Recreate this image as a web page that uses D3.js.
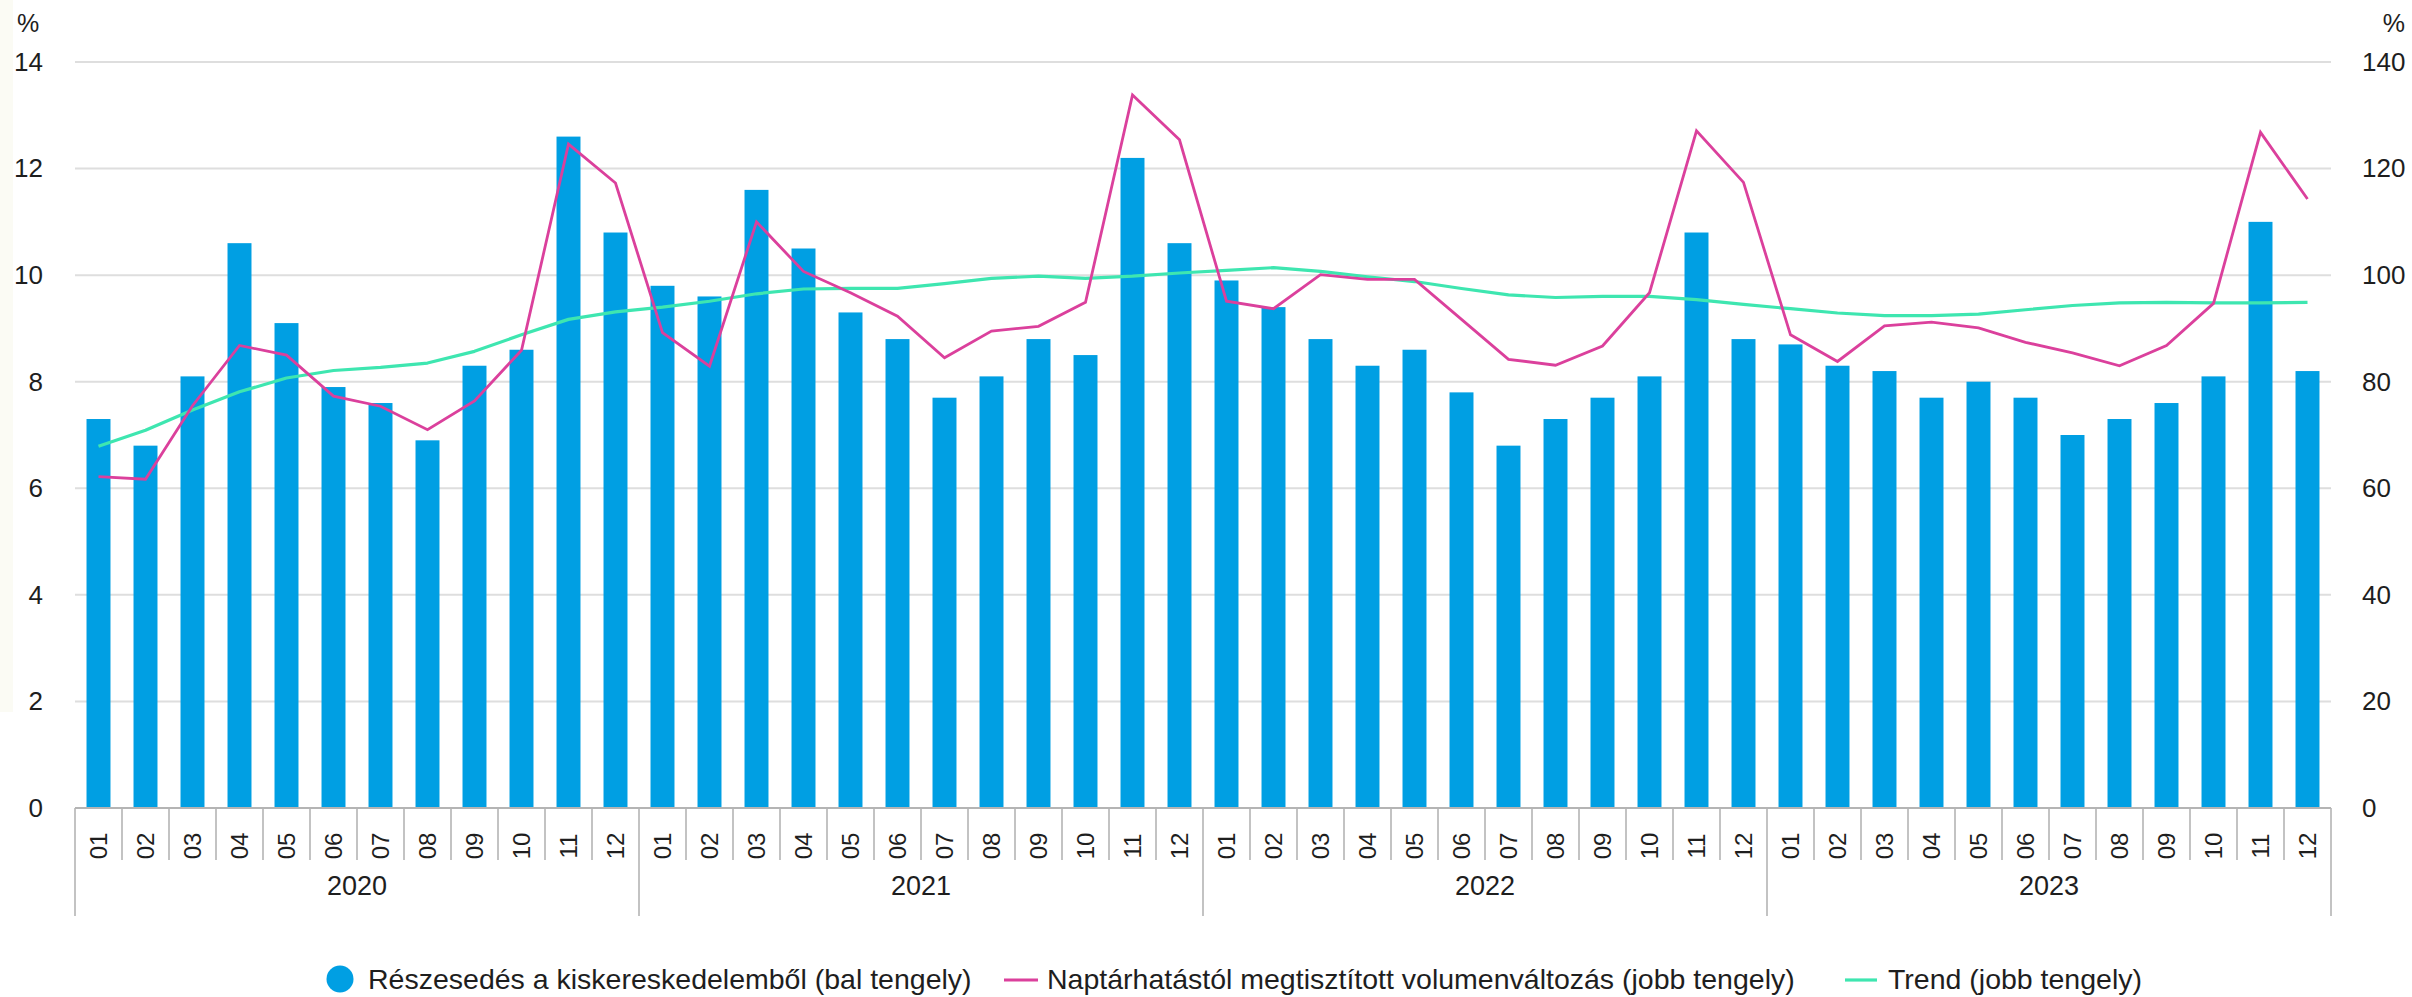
<!DOCTYPE html>
<html lang="hu">
<head>
<meta charset="utf-8">
<script src="https://cdn.jsdelivr.net/npm/d3@7"></script>
<style>
  html, body { margin: 0; padding: 0; background: #ffffff; }
  svg { display: block; font-family: "Liberation Sans", Arial, sans-serif; }
</style>
</head>
<body>
<svg id="chart" width="2412" height="997"></svg>
<script>
// Categories: months grouped by year
const years = ["2020", "2021", "2022", "2023"];
const months = ["01", "02", "03", "04", "05", "06", "07", "08", "09", "10", "11", "12"];

// Share of retail trade, % (left axis)
const shareValues = [
  7.3, 6.8, 8.1, 10.6, 9.1, 7.9, 7.6, 6.9, 8.3, 8.6, 12.6, 10.8,
  9.8, 9.6, 11.6, 10.5, 9.3, 8.8, 7.7, 8.1, 8.8, 8.5, 12.2, 10.6,
  9.9, 9.4, 8.8, 8.3, 8.6, 7.8, 6.8, 7.3, 7.7, 8.1, 10.8, 8.8,
  8.7, 8.3, 8.2, 7.7, 8.0, 7.7, 7.0, 7.3, 7.6, 8.1, 11.0, 8.2
];

// Calendar-adjusted volume change, % (right axis)
const volumeValues = [
  62.2, 61.7, 75.5, 86.8, 85.0, 77.3, 75.4, 71.0, 76.4, 85.9, 124.6, 117.3,
  89.2, 82.9, 110.0, 100.7, 96.7, 92.3, 84.5, 89.5, 90.4, 94.9, 133.8, 125.4,
  95.1, 93.7, 100.1, 99.2, 99.2, 91.7, 84.2, 83.1, 86.7, 96.7, 127.1, 117.4,
  88.8, 83.8, 90.5, 91.2, 90.1, 87.4, 85.4, 83.0, 86.8, 94.7, 126.8, 114.3
];

// Trend, % (right axis)
const trendValues = [
  67.9, 70.9, 74.7, 78.1, 80.7, 82.1, 82.7, 83.5, 85.7, 88.8, 91.7, 93.1,
  94.0, 95.1, 96.5, 97.4, 97.5, 97.5, 98.4, 99.4, 99.8, 99.4, 99.8, 100.4,
  100.9, 101.4, 100.7, 99.7, 98.8, 97.5, 96.3, 95.8, 96.0, 96.0, 95.4, 94.5,
  93.7, 92.9, 92.4, 92.4, 92.7, 93.5, 94.3, 94.8, 94.9, 94.8, 94.8, 94.9
];

const leftTicks = [0, 2, 4, 6, 8, 10, 12, 14];
const rightTicks = [0, 20, 40, 60, 80, 100, 120, 140];

const seriesNames = [
  "Részesedés a kiskereskedelemből (bal tengely)",
  "Naptárhatástól megtisztított volumenváltozás (jobb tengely)",
  "Trend (jobb tengely)"
];

const colors = { bar: "#009fe3", volume: "#db409c", trend: "#3ee6b0", grid: "#dedede", axis: "#b4b4b4", text: "#1e1e1e" };

const svg = d3.select("#chart");
const plot = { left: 75, right: 2331, top: 62, bottom: 808 };

// Faint tinted strip along the left edge
svg.append("rect").attr("x", 0).attr("y", 0).attr("width", 13).attr("height", 712).attr("fill", "#fbfbf4");

const categories = [];
years.forEach(y => months.forEach(m => categories.push({ year: y, month: m })));
const idx = d3.range(categories.length);

const x = d3.scaleBand().domain(idx).range([plot.left, plot.right]).paddingInner(0.49).paddingOuter(0.245);
const step = x.step();
const yL = d3.scaleLinear().domain([0, 14]).range([plot.bottom, plot.top]);
const yR = d3.scaleLinear().domain([0, 140]).range([plot.bottom, plot.top]);

// Horizontal gridlines
svg.append("g").selectAll("line").data(leftTicks.filter(t => t > 0)).join("line")
  .attr("x1", plot.left).attr("x2", plot.right)
  .attr("y1", d => yL(d)).attr("y2", d => yL(d))
  .attr("stroke", colors.grid).attr("stroke-width", 2);

// Left axis labels
const leftAxis = d3.axisLeft(yL).tickValues(leftTicks).tickSize(0).tickPadding(0).tickFormat(d3.format("d"));
const gl = svg.append("g").attr("transform", `translate(${43},0)`).call(leftAxis);
gl.select(".domain").remove();
gl.selectAll("text").attr("font-size", 26).attr("fill", colors.text).attr("font-family", "Liberation Sans, Arial, sans-serif");

// Right axis labels
const rightAxis = d3.axisRight(yR).tickValues(rightTicks).tickSize(0).tickPadding(0).tickFormat(d3.format("d"));
const gr = svg.append("g").attr("transform", `translate(${2362},0)`).call(rightAxis);
gr.select(".domain").remove();
gr.selectAll("text").attr("font-size", 26).attr("fill", colors.text).attr("font-family", "Liberation Sans, Arial, sans-serif");

// Unit labels
svg.append("text").attr("x", 17).attr("y", 23).attr("dy", "0.35em").attr("font-size", 25).attr("fill", colors.text).text("%");
svg.append("text").attr("x", 2405).attr("y", 23).attr("dy", "0.35em").attr("text-anchor", "end").attr("font-size", 25).attr("fill", colors.text).text("%");

// Bars
svg.append("g").selectAll("rect").data(idx).join("rect")
  .attr("x", i => x(i)).attr("width", x.bandwidth())
  .attr("y", i => yL(shareValues[i])).attr("height", i => yL(0) - yL(shareValues[i]))
  .attr("fill", colors.bar);

// Lines
const cx = i => x(i) + x.bandwidth() / 2;
const line = vals => d3.line().x(i => cx(i)).y(i => yR(vals[i]))(idx);
svg.append("path").attr("d", line(trendValues)).attr("fill", "none").attr("stroke", colors.trend).attr("stroke-width", 3.2).attr("stroke-linejoin", "round");
svg.append("path").attr("d", line(volumeValues)).attr("fill", "none").attr("stroke", colors.volume).attr("stroke-width", 2.8).attr("stroke-linejoin", "miter");

// Category axis: baseline, month separators, year separators
const ax = svg.append("g");
ax.append("line").attr("x1", plot.left).attr("x2", plot.right).attr("y1", plot.bottom).attr("y2", plot.bottom)
  .attr("stroke", colors.axis).attr("stroke-width", 2);
const boundaries = d3.range(categories.length + 1);
ax.selectAll("line.sep").data(boundaries).join("line").attr("class", "sep")
  .attr("x1", k => plot.left + k * step).attr("x2", k => plot.left + k * step)
  .attr("y1", plot.bottom).attr("y2", k => (k % 12 === 0) ? 916 : 860)
  .attr("stroke", colors.axis).attr("stroke-width", 1.6);

// Month labels (rotated)
ax.selectAll("text.month").data(idx).join("text").attr("class", "month")
  .attr("transform", i => `translate(${cx(i)},${846}) rotate(-90)`)
  .attr("text-anchor", "middle").attr("dy", "0.36em")
  .attr("font-size", 24).attr("fill", colors.text)
  .text(i => categories[i].month);

// Year labels
ax.selectAll("text.year").data(years).join("text").attr("class", "year")
  .attr("x", (d, j) => plot.left + (j * 12 + 6) * step)
  .attr("y", 885).attr("dy", "0.36em").attr("text-anchor", "middle")
  .attr("font-size", 27).attr("fill", colors.text)
  .text(d => d);

// Legend
const lg = svg.append("g").attr("font-size", 28.5).attr("fill", colors.text);
const ly = 979;
lg.append("circle").attr("cx", 340).attr("cy", ly).attr("r", 13.5).attr("fill", colors.bar);
lg.append("text").attr("x", 368).attr("y", ly).attr("dy", "0.35em").text(seriesNames[0]);
lg.append("line").attr("x1", 1004).attr("x2", 1038).attr("y1", ly + 1).attr("y2", ly + 1).attr("stroke", colors.volume).attr("stroke-width", 2.8);
lg.append("text").attr("x", 1047).attr("y", ly).attr("dy", "0.35em").text(seriesNames[1]);
lg.append("line").attr("x1", 1845).attr("x2", 1877).attr("y1", ly + 1).attr("y2", ly + 1).attr("stroke", colors.trend).attr("stroke-width", 3.2);
lg.append("text").attr("x", 1888).attr("y", ly).attr("dy", "0.35em").text(seriesNames[2]);
</script>
</body>
</html>
